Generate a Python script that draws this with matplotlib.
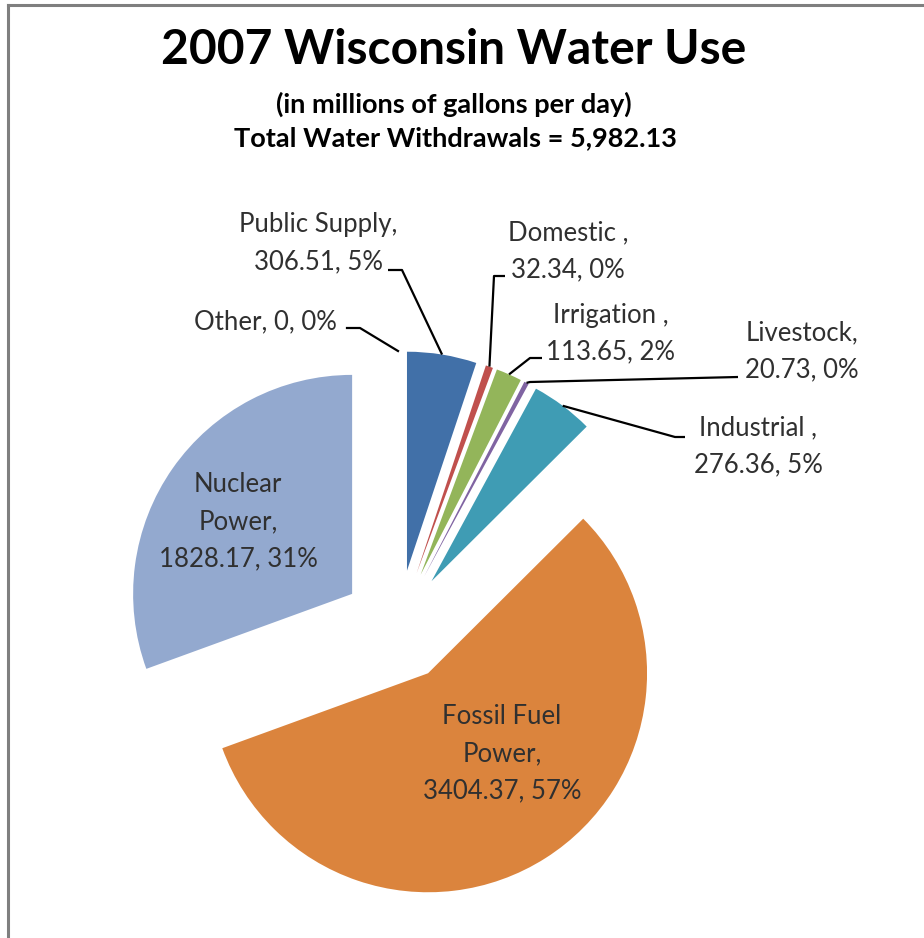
import matplotlib
matplotlib.use('Agg')
import matplotlib.pyplot as plt
import numpy as np

# ---- data ----
categories = ['Public Supply', 'Domestic', 'Irrigation', 'Livestock',
              'Industrial', 'Fossil Fuel Power', 'Nuclear Power', 'Other']
name_labels = ['Public Supply,', 'Domestic ,', 'Irrigation ,', 'Livestock,',
               'Industrial ,', 'Fossil Fuel\nPower,', 'Nuclear\nPower,', 'Other,']
values = [306.51, 32.34, 113.65, 20.73, 276.36, 3404.37, 1828.17, 0]
value_labels = ['306.51', '32.34', '113.65', '20.73', '276.36', '3404.37', '1828.17', '0']
pct_labels = ['5%', '0%', '2%', '0%', '5%', '57%', '31%', '0%']
colors = ['#4170A8', '#C0504D', '#93B55A', '#8064A2', '#3F9CB4',
          '#DB843D', '#93A9CF', '#4BACC6']

title = '2007 Wisconsin Water Use'
subtitle1 = '(in millions of gallons per day)'
subtitle2 = 'Total Water Withdrawals = 5,982.13'

# ---- layout ----
W, H = 924, 938
CX, CY = 398, 626      # pie centre (pixels from top-left)
R = 219                # radius in px
EXPL = 56 / R          # explosion as fraction of radius
FONT = ['Lato', 'DejaVu Sans']
LBL_COLOR = '#303030'
LBL_SIZE = 18.5
LINE_H = 37 / R

fig = plt.figure(figsize=(W / 100, H / 100), dpi=100)
ax = fig.add_axes([0, 0, 1, 1])


def px(x, y):
    return ((x - CX) / R, (CY - y) / R)


wedges, _ = ax.pie(values, colors=colors, startangle=90, counterclock=False,
                   explode=[EXPL] * len(values), radius=1.0,
                   wedgeprops=dict(linewidth=0))
ax.set_aspect('auto')
ax.set_xlim(-CX / R, (W - CX) / R)
ax.set_ylim(-(H - CY) / R, CY / R)
ax.axis('off')

# anchor points (outer mid-arc of each exploded wedge)
total = sum(values)
fracs = np.array(values) / total
cum = np.concatenate([[0], np.cumsum(fracs)])
anchors = []
for i in range(len(values)):
    mid = (cum[i] + cum[i + 1]) / 2 * 2 * np.pi
    d = np.array([np.sin(mid), np.cos(mid)])
    anchors.append(d * (1 + EXPL))


def text_block(lines, cx, cy_top, color=LBL_COLOR, size=LBL_SIZE):
    for k, line in enumerate(lines):
        x, y = px(cx, cy_top)
        ax.text(x, y - k * LINE_H, line, ha='center', va='center',
                fontsize=size, color=color, family=FONT)


def label_lines(i):
    parts = name_labels[i].split('\n')
    return parts, f'{value_labels[i]}, {pct_labels[i]}'


# outside labels: (index, text centre x, first line y, elbow points in px)
outside = {
    0: (318, 225, [(388, 270), (402, 270)]),
    1: (568, 233, [(505, 276), (494, 276)]),
    2: (611, 315, [(542, 358), (530, 358)]),
    3: (802, 333, [(738, 377), (530, 382)]),
    4: (758, 428, [(685, 437), (675, 437)]),
}
for i, (tx, ty, elbow) in outside.items():
    name, val = label_lines(i)
    text_block(name + [val], tx, ty)
    pts = [px(*p) for p in elbow] + [tuple(anchors[i])]
    xs, ys = zip(*pts)
    ax.plot(xs, ys, color='black', lw=1.6, solid_capstyle='butt')

# Other (single line)
x, y = px(265, 322)
ax.text(x, y, f'{name_labels[7]} {value_labels[7]}, {pct_labels[7]}',
        ha='center', va='center', fontsize=LBL_SIZE, color=LBL_COLOR, family=FONT)
pts = [px(347, 328), px(360, 328), tuple(anchors[7])]
xs, ys = zip(*pts)
ax.plot(xs, ys, color='black', lw=1.6)

# inside labels
name, val = label_lines(6)
text_block(name + [val], 238, 485)
name, val = label_lines(5)
text_block(name + [val], 502, 717)

# titles
fig.text(454 / W, 1 - 50 / H, title, ha='center', va='center',
         fontsize=34.5, fontweight='bold', family=FONT, color='black')
fig.text(454 / W, 1 - 104 / H, subtitle1, ha='center', va='center',
         fontsize=19.5, fontweight='bold', family=FONT, color='black')
fig.text(455 / W, 1 - 138 / H, subtitle2, ha='center', va='center',
         fontsize=19.5, fontweight='bold', family=FONT, color='black')

# chart frame (top and left edges)
ax.plot([px(8, 5)[0], px(W, 5)[0]], [px(8, 5)[1]] * 2, color='#7f7f7f', lw=2.2,
        clip_on=False)
ax.plot([px(8, 5)[0]] * 2, [px(8, 5)[1], px(8, H)[1]], color='#7f7f7f', lw=2.2,
        clip_on=False)

fig.savefig('out.png', dpi=100)
